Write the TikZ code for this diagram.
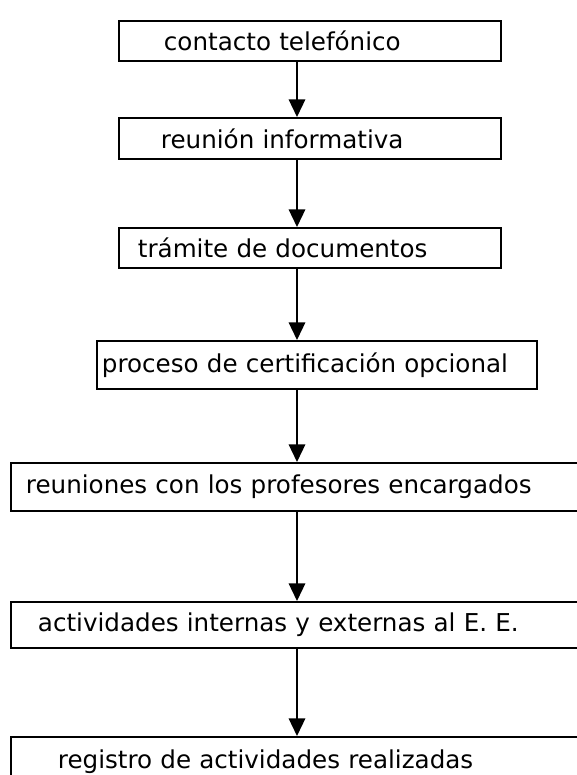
\documentclass[tikz,border=0pt]{standalone}
\usepackage{fontspec}
\setmainfont{DejaVu Sans}
\usepackage{tikz}
\usetikzlibrary{arrows.meta}

\begin{document}
\begin{tikzpicture}[
  paso/.style={draw,line width=1.6pt,anchor=north west,inner sep=0pt,align=left,font=\fontsize{21}{25}\selectfont},
  flecha/.style={-{Triangle[width=14pt,length=15pt]},line width=1.6pt}]
\clip (0cm,0cm) rectangle (17.31cm,-23.25cm);
\coordinate (eje) at (8.91cm,0cm);
\node[paso,minimum width=11.46cm,minimum height=1.20cm,text width=8.76cm] (contacto) at (3.54cm,-0.60cm) {contacto telefónico};
\node[paso,minimum width=11.46cm,minimum height=1.23cm,text width=8.94cm] (reunion) at (3.54cm,-3.51cm) {reunión informativa};
\node[paso,minimum width=11.46cm,minimum height=1.20cm,text width=10.32cm] (tramite) at (3.54cm,-6.81cm) {trámite de documentos};
\node[paso,minimum width=13.20cm,minimum height=1.44cm,text width=12.90cm] (proceso) at (2.88cm,-10.20cm) {proceso de certificación opcional};
\node[paso,minimum width=18.00cm,minimum height=1.44cm,text width=17.10cm] (profes) at (0.30cm,-13.86cm) {reuniones con los profesores encargados};
\node[paso,minimum width=18.00cm,minimum height=1.38cm,text width=16.38cm] (activ) at (0.30cm,-18.03cm) {actividades internas y externas al E. E.};
\node[paso,minimum width=18.00cm,minimum height=1.50cm,text width=15.18cm] (registro) at (0.30cm,-22.08cm) {registro de actividades realizadas};
\draw[flecha] (contacto.south -| eje) -- (reunion.north -| eje);
\draw[flecha] (reunion.south -| eje) -- (tramite.north -| eje);
\draw[flecha] (tramite.south -| eje) -- (proceso.north -| eje);
\draw[flecha] (proceso.south -| eje) -- (profes.north -| eje);
\draw[flecha] (profes.south -| eje) -- (activ.north -| eje);
\draw[flecha] (activ.south -| eje) -- (registro.north -| eje);
\end{tikzpicture}
\end{document}
